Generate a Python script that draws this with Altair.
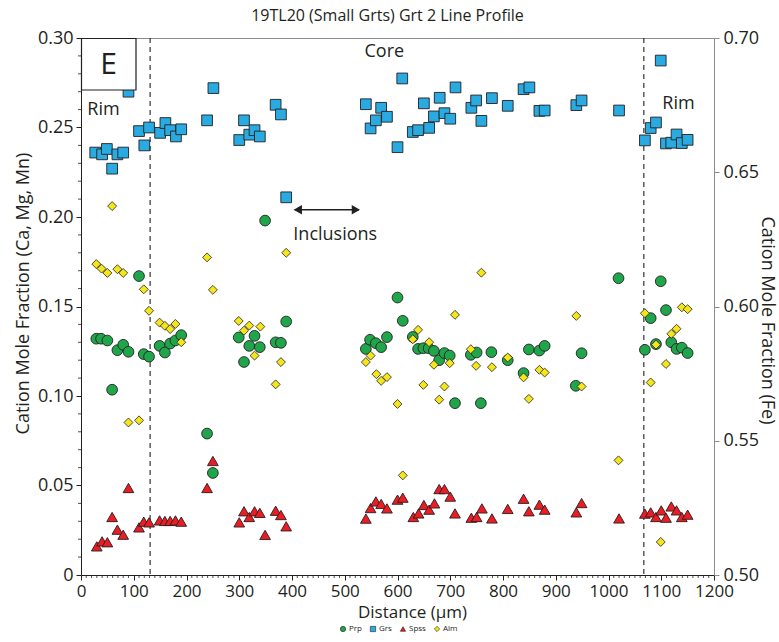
import altair as alt
import pandas as pd

# ---------------- data ----------------
prp_d = [29, 38, 50, 59, 69, 80, 90, 110, 119, 129, 149, 159, 169, 179, 190, 239, 250,
         299, 309, 319, 329, 339, 349, 369, 379, 389, 540, 548, 559, 569, 580, 600, 610,
         629, 639, 649, 659, 669, 679, 689, 699, 709, 739, 750, 758, 778, 809, 839, 849,
         869, 879, 938, 949, 1019, 1069, 1080, 1090, 1099, 1109, 1119, 1129, 1139, 1150]
prp_v = [0.132, 0.132, 0.131, 0.1035, 0.1256, 0.1286, 0.1247, 0.167, 0.1234, 0.122, 0.128,
         0.1243, 0.1293, 0.131, 0.134, 0.079, 0.057, 0.1327, 0.119, 0.128, 0.1336, 0.1273,
         0.198, 0.130, 0.1297, 0.1416, 0.1263, 0.1314, 0.1295, 0.1273, 0.1329, 0.155, 0.142,
         0.133, 0.1263, 0.1267, 0.1267, 0.1252, 0.120, 0.124, 0.1226, 0.096, 0.123, 0.1243,
         0.096, 0.1245, 0.120, 0.1128, 0.126, 0.1254, 0.128, 0.1057, 0.1239, 0.1658, 0.1258,
         0.1435, 0.129, 0.1641, 0.148, 0.130, 0.1263, 0.127, 0.124]

grs_d = [27, 40, 49, 59, 69, 80, 90, 110, 120, 129, 150, 160, 169, 180, 190, 239, 251,
         300, 309, 319, 329, 339, 369, 379, 389, 540, 549, 559, 569, 580, 600, 609, 629,
         639, 650, 660, 669, 680, 689, 700, 710, 740, 749, 759, 779, 809, 839, 850, 869,
         879, 939, 949, 1020, 1069, 1080, 1090, 1099, 1109, 1119, 1129, 1139, 1150]
grs_v = [0.236, 0.235, 0.238, 0.227, 0.235, 0.236, 0.270, 0.248, 0.240, 0.250, 0.247,
         0.2525, 0.2485, 0.245, 0.249, 0.254, 0.272, 0.243, 0.254, 0.246, 0.2485, 0.245,
         0.2627, 0.2573, 0.211, 0.263, 0.2495, 0.254, 0.261, 0.256, 0.239, 0.2774, 0.2475,
         0.2485, 0.2635, 0.2498, 0.2562, 0.2666, 0.258, 0.2549, 0.2724, 0.261, 0.2651,
         0.2537, 0.2664, 0.2621, 0.2714, 0.2724, 0.2593, 0.2595, 0.2625, 0.2651, 0.2595,
         0.2428, 0.2497, 0.2528, 0.2874, 0.2411, 0.2415, 0.2461, 0.2413, 0.2431]

sps_d = [30, 40, 50, 59, 69, 80, 90, 110, 119, 129, 149, 159, 169, 179, 190, 239, 250,
         300, 309, 319, 329, 339, 349, 369, 379, 389, 540, 549, 559, 569, 580, 600, 610,
         630, 640, 650, 660, 670, 679, 689, 700, 709, 740, 750, 760, 779, 809, 839, 849,
         869, 879, 939, 949, 1020, 1069, 1080, 1090, 1100, 1109, 1119, 1129, 1139, 1150]
sps_v = [0.016, 0.0188, 0.0183, 0.0324, 0.0253, 0.0225, 0.0486, 0.0266, 0.0298, 0.0294,
         0.0305, 0.0302, 0.0302, 0.0305, 0.0298, 0.0486, 0.0637, 0.0294, 0.0356, 0.0324,
         0.0356, 0.0347, 0.0224, 0.0359, 0.0335, 0.0272, 0.0315, 0.0374, 0.0411, 0.0397,
         0.0372, 0.0421, 0.0432, 0.0324, 0.0344, 0.0391, 0.0365, 0.040, 0.048, 0.048,
         0.0438, 0.0344, 0.032, 0.0324, 0.0372, 0.0316, 0.0369, 0.0426, 0.0356, 0.0393,
         0.0365, 0.035, 0.0402, 0.0316, 0.0343, 0.035, 0.0324, 0.0361, 0.032, 0.0383,
         0.0361, 0.0324, 0.0337]

alm_d = [29, 39, 50, 59, 69, 80, 90, 110, 119, 129, 149, 159, 169, 179, 190, 239, 250,
         299, 309, 319, 329, 340, 369, 379, 389, 540, 549, 560, 569, 580, 600, 610, 629,
         639, 649, 660, 669, 679, 689, 699, 709, 739, 749, 759, 779, 809, 839, 849, 869,
         879, 939, 949, 1019, 1069, 1080, 1090, 1099, 1109, 1119, 1129, 1139, 1150]
alm_v = [0.6158, 0.6141, 0.6125, 0.6374, 0.6139, 0.6125, 0.5568, 0.5576, 0.6064, 0.5984,
         0.594, 0.5928, 0.5916, 0.5935, 0.5867, 0.6183, 0.6062, 0.5946, 0.591, 0.5929,
         0.5817, 0.5925, 0.571, 0.5793, 0.620, 0.5793, 0.5817, 0.5748, 0.5723, 0.5737,
         0.5637, 0.5371, 0.5878, 0.5913, 0.5708, 0.5867, 0.5783, 0.5653, 0.5702, 0.5789,
         0.5969, 0.5841, 0.5779, 0.6126, 0.5774, 0.581, 0.5736, 0.5656, 0.5764, 0.5754,
         0.5965, 0.5702, 0.5427, 0.5975, 0.5717, 0.5858, 0.5123, 0.5786, 0.5898, 0.5917,
         0.5997, 0.599]

series_names = ["Prp", "Grs", "Spss", "Alm"]
series_colors = ["#1fa64a", "#29abe2", "#ec1c24", "#f5e61a"]
series_shapes = ["circle", "square", "triangle-up", "diamond"]

boundaries = [131, 1067]           # rim/core boundaries (dashed)
x_ticks = list(range(0, 1201, 100))
left_ticks = [0, 0.05, 0.10, 0.15, 0.20, 0.25, 0.30]
right_ticks = [0.50, 0.55, 0.60, 0.65, 0.70]

# ---------------- tables ----------------
df_left = pd.concat([
    pd.DataFrame({"d": prp_d, "v": prp_v, "series": "Prp"}),
    pd.DataFrame({"d": grs_d, "v": grs_v, "series": "Grs"}),
    pd.DataFrame({"d": sps_d, "v": sps_v, "series": "Spss"}),
], ignore_index=True)
df_alm = pd.DataFrame({"d": alm_d, "v": alm_v, "series": "Alm"})

W, H = 633, 537
FONT = "Open Sans"
INK = "#231f20"

xs = alt.Scale(domain=[0, 1200], nice=False, zero=False)
yl = alt.Scale(domain=[0, 0.30], nice=False)
yr = alt.Scale(domain=[0.50, 0.70], nice=False, zero=False)

color_scale = alt.Scale(domain=series_names, range=series_colors)
shape_scale = alt.Scale(domain=series_names, range=series_shapes)

x_axis = alt.Axis(values=x_ticks, format="d", title="Distance (µm)", grid=False,
                  labelFontSize=17, titleFontSize=17, titleFontWeight="normal", tickSize=5,
                  labelPadding=3, domainColor=INK, tickColor=INK, labelColor=INK,
                  titleColor=INK, labelFlush=False, titleX=331, titleY=37,
                  titleBaseline="middle")

left_axis = alt.Axis(values=left_ticks, title="Cation Mole Fraction (Ca, Mg, Mn)", grid=False,
                     labelExpr="datum.value == 0 ? '0' : format(datum.value, '.2f')",
                     labelFontSize=18, titleFontSize=18, titleFontWeight="normal",
                     tickSize=5, labelPadding=3, domainColor=INK, tickColor=INK,
                     labelColor=INK, titleColor=INK, titleX=-58, titleY=255,
                     titleBaseline="middle", titleAlign="center")

right_axis = alt.Axis(values=right_ticks, orient="right", format=".2f",
                      title="Cation Mole Fraction (Fe)", grid=False,
                      labelFontSize=18, titleFontSize=18, titleFontWeight="normal",
                      tickSize=5, labelPadding=4, domainColor="#8c8c8c", tickColor="#8c8c8c",
                      labelColor=INK, titleColor=INK, titleX=52, titleY=282, titleAngle=90,
                      titleBaseline="middle", titleAlign="center")

legend = alt.Legend(title=None, orient="none", legendX=258, legendY=587, direction="horizontal",
                    labelFontSize=8, symbolSize=28, symbolStrokeColor=INK, symbolStrokeWidth=0.6,
                    columnPadding=7, labelOffset=2, labelColor=INK)

pts_left = alt.Chart(df_left).mark_point(filled=True, size=115, stroke=INK, strokeWidth=0.9,
                                         opacity=1).encode(
    x=alt.X("d:Q", scale=xs, axis=x_axis),
    y=alt.Y("v:Q", scale=yl, axis=left_axis),
    color=alt.Color("series:N", scale=color_scale, legend=legend),
    shape=alt.Shape("series:N", scale=shape_scale, legend=legend),
)

# minor ticks
minor_x = pd.DataFrame({"t": [t for t in range(10, 1200, 10) if t % 100 != 0]})
minor_x_rules = alt.Chart(minor_x).mark_rule(color=INK, strokeWidth=0.8).encode(
    x=alt.X("t:Q", scale=xs), y=alt.value(H), y2=alt.value(H + 3))
minor_y = pd.DataFrame({"t": [i / 100 for i in range(1, 30) if i % 5 != 0]})
minor_y_rules = alt.Chart(minor_y).mark_rule(color=INK, strokeWidth=0.8).encode(
    y=alt.Y("t:Q", scale=yl), x=alt.value(0), x2=alt.value(-3))

dashes = alt.Chart(pd.DataFrame({"b": boundaries})).mark_rule(
    color=INK, strokeDash=[5, 4], strokeWidth=1.1).encode(x=alt.X("b:Q", scale=xs))

one = pd.DataFrame({"k": [0]})
ebox = alt.Chart(one).mark_rect(fill="white", stroke=INK, strokeWidth=1.2).encode(
    x=alt.value(0.5), x2=alt.value(55), y=alt.value(0.5), y2=alt.value(52))
etext = alt.Chart(one).mark_text(text="E", fontSize=30, font=FONT, color=INK,
                                 align="center", baseline="middle").encode(
    x=alt.value(27.5), y=alt.value(27))

labels = pd.DataFrame({
    "d": [12, 1102, 575, 482],
    "v": [0.2597, 0.2634, 0.2919, 0.190],
    "txt": ["Rim", "Rim", "Core", "Inclusions"],
    "al": ["left", "left", "center", "center"],
})
ann_left = alt.Chart(labels[labels.al == "left"]).mark_text(
    fontSize=18, font=FONT, color=INK, align="left", baseline="middle").encode(
    x=alt.X("d:Q", scale=xs), y=alt.Y("v:Q", scale=yl), text="txt:N")
ann_center = alt.Chart(labels[labels.al == "center"]).mark_text(
    fontSize=18, font=FONT, color=INK, align="center", baseline="middle").encode(
    x=alt.X("d:Q", scale=xs), y=alt.Y("v:Q", scale=yl), text="txt:N")

arrow_line = alt.Chart(pd.DataFrame({"a": [405], "b": [527], "v": [0.204]})).mark_rule(
    color=INK, strokeWidth=1.5).encode(
    x=alt.X("a:Q", scale=xs), x2="b:Q", y=alt.Y("v:Q", scale=yl))
arrow_heads = alt.Chart(pd.DataFrame({"d": [411, 521], "v": [0.204, 0.204],
                                      "s": ["triangle-left", "triangle-right"]})).mark_point(
    filled=True, size=90, color=INK, opacity=1).encode(
    x=alt.X("d:Q", scale=xs), y=alt.Y("v:Q", scale=yl),
    shape=alt.Shape("s:N", scale=None, legend=None))

left_group = alt.layer(minor_x_rules, minor_y_rules, dashes, pts_left, ebox, etext,
                       ann_left, ann_center, arrow_line, arrow_heads)

pts_alm = alt.Chart(df_alm).mark_point(filled=True, size=80, stroke=INK, strokeWidth=0.8,
                                       opacity=1).encode(
    x=alt.X("d:Q", scale=xs, axis=x_axis),
    y=alt.Y("v:Q", scale=yr, axis=right_axis),
    color=alt.Color("series:N", scale=color_scale, legend=legend),
    shape=alt.Shape("series:N", scale=shape_scale, legend=legend),
)

chart = alt.layer(left_group, pts_alm).resolve_scale(y="independent").properties(
    width=W, height=H,
    autosize=alt.AutoSizeParams(type="none"),
    padding={"left": 81, "top": 38, "right": 65, "bottom": 67},
    title=alt.TitleParams("19TL20 (Small Grts) Grt 2 Line Profile", fontSize=16,
                          font=FONT, fontWeight="normal", color=INK, offset=5, dx=-10),
).configure(font=FONT).configure_view(stroke="#8c8c8c", strokeWidth=1)

chart.save("out.html", embed_options={"renderer": "svg", "actions": False})
